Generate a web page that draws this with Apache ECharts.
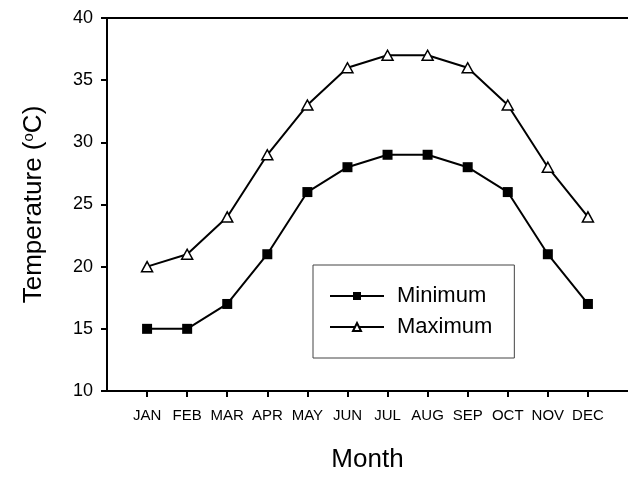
<!DOCTYPE html>
<html>
<head>
<meta charset="utf-8">
<script src="https://cdn.jsdelivr.net/npm/echarts@6/dist/echarts.min.js"></script>
<style>
	html, body { margin: 0; padding: 0; background: #fff; }
	#main { width: 628px; height: 478px; }
</style>
</head>
<body>
<div id="main"></div>
<script>
	var months = ['JAN', 'FEB', 'MAR', 'APR', 'MAY', 'JUN', 'JUL', 'AUG', 'SEP', 'OCT', 'NOV', 'DEC']
	var minTemp = [15, 15, 17, 21, 26, 28, 29, 29, 28, 26, 21, 17]
	var maxTemp = [20, 21, 24, 29, 33, 36, 37, 37, 36, 33, 28, 24]
	var yTicks = [10, 15, 20, 25, 30, 35, 40]

	var monthIdx = months.map(function (m, i) { return i + 1 })
	function pairs(vals) {
		return vals.map(function (v, i) { return [i + 1, v] })
	}

	var font = 'Liberation Sans, Arial, sans-serif'
	var chart = echarts.init(document.getElementById('main'))
	chart.setOption({
		backgroundColor: '#fff',
		animation: false,
		textStyle: { fontFamily: font, color: '#000' },
		grid: { left: 107, right: -7, top: 18, bottom: 87 },
		legend: {
			orient: 'vertical',
			left: 313,
			top: 265,
			padding: [20, 22, 20, 16],
			borderColor: '#444',
			borderWidth: 1,
			itemWidth: 54,
			itemHeight: 10,
			itemGap: 9,
			textStyle: { fontSize: 22, color: '#000', lineHeight: 22, padding: [0, 0, 0, 8] },
			data: ['Minimum', 'Maximum']
		},
		xAxis: [{
			type: 'value',
			min: 0,
			max: 13,
			interval: 1,
			name: 'Month',
			nameLocation: 'middle',
			nameGap: 56,
			nameTextStyle: { fontSize: 26, color: '#000' },
			axisLine: { lineStyle: { color: '#000', width: 2 } },
			axisTick: { customValues: monthIdx, length: 6, lineStyle: { color: '#000', width: 2 } },
			axisLabel: {
				customValues: monthIdx,
				fontSize: 15,
				color: '#000',
				margin: 17,
				formatter: function (v) { return months[v - 1] || '' }
			},
			splitLine: { show: false }
		}, {
			type: 'value',
			position: 'top',
			min: 0,
			max: 13,
			axisLine: { lineStyle: { color: '#000', width: 2 } },
			axisTick: { show: false },
			axisLabel: { show: false },
			splitLine: { show: false }
		}],
		yAxis: {
			type: 'value',
			min: yTicks[0],
			max: yTicks[yTicks.length - 1],
			interval: 5,
			name: 'Temperature ({sup|o}C)',
			nameLocation: 'middle',
			nameGap: 60,
			nameTextStyle: {
				fontSize: 26,
				color: '#000',
				rich: { sup: { fontSize: 15, verticalAlign: 'top', padding: [0, 0, 10, 0] } }
			},
			axisLine: { lineStyle: { color: '#000', width: 2 } },
			axisTick: { length: 6, lineStyle: { color: '#000', width: 2 } },
			axisLabel: { fontSize: 18, color: '#000', margin: 14 },
			splitLine: { show: false }
		},
		series: [{
			name: 'Minimum',
			type: 'line',
			data: pairs(minTemp),
			symbol: 'rect',
			symbolSize: 10,
			lineStyle: { color: '#000', width: 2 },
			itemStyle: { color: '#000' }
		}, {
			name: 'Maximum',
			type: 'line',
			data: pairs(maxTemp),
			symbol: 'triangle',
			symbolSize: [11, 10],
			lineStyle: { color: '#000', width: 2 },
			itemStyle: { color: '#fff', borderColor: '#000', borderWidth: 1.5 }
		}]
	})
</script>
</body>
</html>
